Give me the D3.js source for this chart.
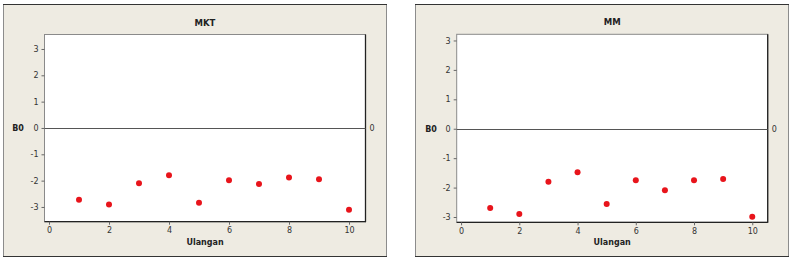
<!DOCTYPE html>
<html><head><meta charset="utf-8">
<script src="https://cdn.jsdelivr.net/npm/d3@7"></script>
<style>body{margin:0;background:#fff}svg{display:block}</style>
</head><body>
<svg id="c" width="789" height="260"></svg>
<script>
const ulangan = [1,2,3,4,5,6,7,8,9,10];
const mktValues = [-2.73,-2.91,-2.10,-1.80,-2.84,-1.99,-2.13,-1.88,-1.95,-3.11];
const mmValues  = [-2.69,-2.90,-1.80,-1.48,-2.56,-1.75,-2.09,-1.75,-1.71,-2.99];
const xTicks = [0,2,4,6,8,10];
const yTicks = [-3,-2,-1,0,1,2,3];
const titles = ["MKT","MM"];

const svg = d3.select("#c");
const font = "'DejaVu Sans', Verdana, sans-serif";

const panels = [
  {title:titles[0], vals:mktValues, box:[3,4,387,257], plot:[44.5,34.5,365.5,221.7], x:[-0.15,10.55], y:[-3.56,3.55], b0x:18},
  {title:titles[1], vals:mmValues,  box:[415,4,789,257], plot:[456.7,34.3,767.7,222.3], x:[-0.15,10.53], y:[-3.18,3.21], b0x:431}
];

panels.forEach(p => {
  const [bx0,by0,bx1,by1] = p.box;
  const g = svg.append("g");
  g.append("rect").attr("x",bx0+0.5).attr("y",by0+0.5).attr("width",bx1-bx0-1).attr("height",by1-by0-1)
    .attr("fill","#eeebe2").attr("stroke","#8c8c8c");
  g.append("line").attr("x1",bx0).attr("x2",bx1).attr("y1",by0+0.5).attr("y2",by0+0.5).attr("stroke","#333");
  g.append("line").attr("x1",bx0).attr("x2",bx1).attr("y1",by1-0.5).attr("y2",by1-0.5).attr("stroke","#333");

  const [px0,py0,px1,py1] = p.plot;
  const x = d3.scaleLinear().domain(p.x).range([px0,px1]);
  const y = d3.scaleLinear().domain(p.y).range([py1,py0]);

  g.append("rect").attr("x",px0).attr("y",py0).attr("width",px1-px0).attr("height",py1-py0)
    .attr("fill","#fff").attr("stroke","#8a8a8a");
  g.append("line").attr("x1",px1).attr("x2",px1).attr("y1",py0).attr("y2",py1+0.5).attr("stroke","#222").attr("stroke-width",1.3);
  g.append("line").attr("x1",px0).attr("x2",px1).attr("y1",py1).attr("y2",py1).attr("stroke","#222").attr("stroke-width",1.3);

  // zero reference line
  g.append("line").attr("x1",px0).attr("x2",px1).attr("y1",Math.round(y(0))+0.5).attr("y2",Math.round(y(0))+0.5)
    .attr("stroke","#555").attr("stroke-width",1);

  const yAxis = g.append("g").attr("transform",`translate(${px0},0)`)
    .call(d3.axisLeft(y).tickValues(yTicks).tickFormat(d => String(d)).tickSize(3).tickPadding(3));
  const xAxis = g.append("g").attr("transform",`translate(0,${py1})`)
    .call(d3.axisBottom(x).tickValues(xTicks).tickFormat(d => String(d)).tickSize(3).tickPadding(3));
  [yAxis,xAxis].forEach(a => {
    a.select(".domain").remove();
    a.selectAll("line").attr("stroke","#666");
    a.selectAll("text").attr("font-family",font).attr("font-size",8).attr("fill","#333");
  });

  g.append("text").attr("x",(px0+px1)/2).attr("y",py0-9).attr("text-anchor","middle")
    .attr("font-family",font).attr("font-size",8.5).attr("font-weight","bold").attr("fill","#222").text(p.title);
  g.append("text").attr("x",(px0+px1)/2).attr("y",py1+23).attr("text-anchor","middle")
    .attr("font-family",font).attr("font-size",8).attr("font-weight","bold").attr("fill","#222").text("Ulangan");
  g.append("text").attr("x",p.b0x).attr("y",y(0)+3).attr("text-anchor","middle")
    .attr("font-family",font).attr("font-size",8).attr("font-weight","bold").attr("fill","#222").text("B0");
  g.append("text").attr("x",px1+4).attr("y",y(0)+3)
    .attr("font-family",font).attr("font-size",8).attr("fill","#333").text("0");

  g.selectAll("circle.pt").data(ulangan.map((u,i)=>[u,p.vals[i]])).join("circle")
    .attr("class","pt").attr("cx",d=>x(d[0])).attr("cy",d=>y(d[1])).attr("r",3).attr("fill","#e8141b");
});
</script>
</body></html>
